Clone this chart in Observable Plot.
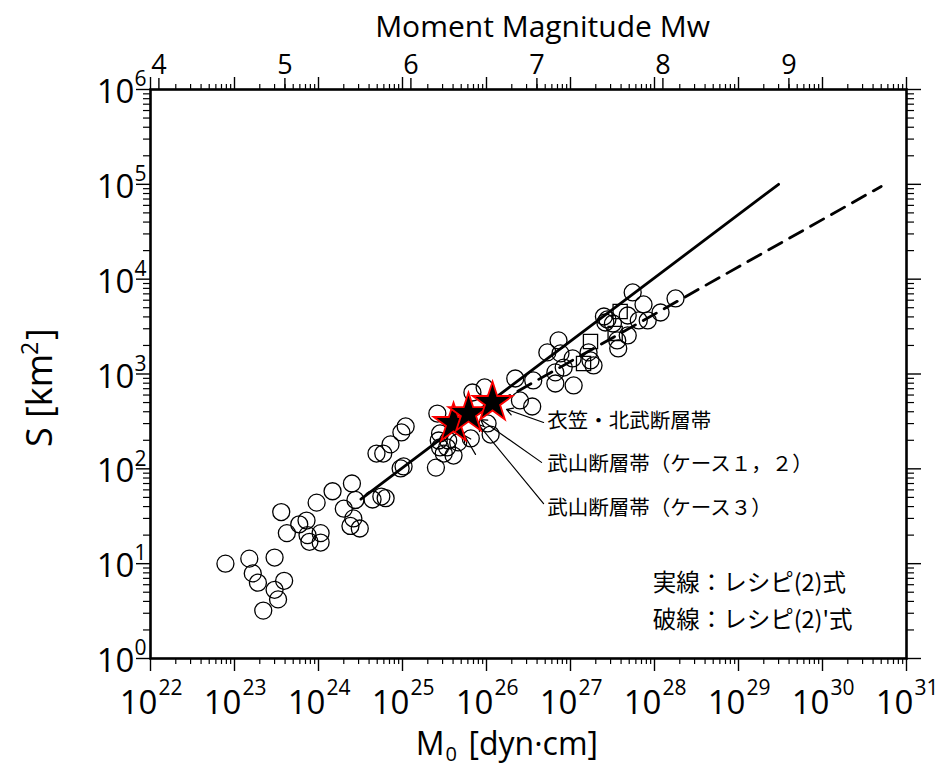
<!DOCTYPE html>
<html>
<head>
<meta charset="utf-8">
<script src="https://cdn.jsdelivr.net/npm/d3@7"></script>
<script src="https://cdn.jsdelivr.net/npm/@observablehq/plot@0.6"></script>
<style>
  html, body { margin: 0; padding: 0; background: #fff; }
  svg { overflow: visible; }
</style>
</head>
<body>
<div id="chart"></div>
<script>
// ---- data ----
const circleM0 = [7.8e22,1.5e23,3.0e23,1.65e23,1.9e23,3.9e23,3.0e23,3.3e23,2.2e23,3.6e23,
  4.2e23,5.9e23,7.2e23,7.4e23,7.8e23,1.06e24,1.06e24,9.5e23,1.47e24,2.0e24,
  2.5e24,2.75e24,2.4e24,3.1e24,2.6e24,4.4e24,5.6e24,6.3e24,4.9e24,5.9e24,
  7.2e24,9.7e24,1.09e25,9.5e24,1.03e25,2.6e25,2.8e25,2.7e25,3.5e25,2.8e25,
  3.4e25,3.1e25,4.05e25,2.5e25,4.6e25,6.5e25,1.12e26,1.03e26,6.8e25,9.5e25,
  2.5e26,3.5e26,2.2e26,3.6e26,5.3e26,7.2e26,6.6e26,1.09e27,8.3e26,1.06e27,
  7.6e26,1.64e27,1.73e27,1.88e27,2.5e27,2.75e27,2.6e27,3.2e27,4.8e27,5.5e27,
  7.4e27,1.18e28,1.78e28,8.3e27,6.5e27,4.8e27,3.6e27,3.7e27,6.6e26];
const circleS = [10.0,11.3,11.6,7.9,6.3,6.6,5.3,4.2,3.2,35,
  21,26,28.5,20,17,21,16.7,44,58,38,
  70,47,25,23.5,30,47.5,51,49,145,145,
  181,242,280,101,106,383,236,199,199,168,
  168,145,138,103,190,209,230,301,638,721,
  526,454,897,855,1690,2260,794,757,1170,1460,
  1650,1690,1390,1230,4040,3760,3490,3410,4140,7240,
  5410,4450,6260,3670,3670,2550,2260,1860,1040];

const squareM0 = [3.9e27, 3.4e27, 1.73e27, 1.43e27];
const squareS  = [4560, 2680, 2200, 1290];

const starM0 = [4.05e25, 6.1e25, 1.18e26];
const starS  = [301, 383, 501];

// recipe (2) solid and recipe (2)' dashed line end points
const solidM0 = [3.2e24, 3.0e29];
const solidS  = [48, 1.0e5];
const dashM0  = [7.5e25, 5.0e30];
const dashS   = [372, 9.5e4];

// annotation labels
const labelText = ["衣笠・北武断層帯", "武山断層帯（ケース１，２）", "武山断層帯（ケース３）"];
const labelM0 = [5.3e26, 5.3e26, 5.3e26];
const labelS  = [316, 111, 38.2];

// leader arrows (from label to star)
const arrowX1 = [4.78e26, 4.52e26, 4.78e26, 7.4e25];
const arrowY1 = [308, 117, 43, 142];
const arrowX2 = [1.73e26, 8.5e25, 8.0e25, 5.47e25];
const arrowY2 = [423, 331, 294, 225];

const legendText = ["実線：レシピ(2)式", "破線：レシピ(2)'式"];
const legendM0 = [9.5e27, 9.5e27];
const legendS  = [6.2, 2.5];

// axis ticks and labels
const xExps = [22,23,24,25,26,27,28,29,30,31];
const yExps = [0,1,2,3,4,5,6];
const mwTicks = [4,5,6,7,8,9];

// ---- build ----
const circles = circleM0.map((m, i) => ({m, s: circleS[i]}));
const squares = squareM0.map((m, i) => ({m, s: squareS[i]}));
const stars = starM0.map((m, i) => ({m, s: starS[i]}));
const solid = solidM0.map((m, i) => ({m, s: solidS[i]}));
const dashed = dashM0.map((m, i) => ({m, s: dashS[i]}));
const labels = labelText.map((t, i) => ({t, m: labelM0[i], s: labelS[i]}));
const arrows = arrowX1.map((x1, i) => ({x1, y1: arrowY1[i], x2: arrowX2[i], y2: arrowY2[i]}));
const legend = legendText.map((t, i) => ({t, m: legendM0[i], s: legendS[i]}));

const xMajor = xExps.map(e => 10 ** e);
const yMajor = yExps.map(e => 10 ** e);
const xMinor = [];
for (const e of xExps.slice(0, -1)) for (let k = 2; k <= 9; k++) xMinor.push(k * 10 ** e);
const yMinor = [];
for (const e of yExps.slice(0, -1)) for (let k = 2; k <= 9; k++) yMinor.push(k * 10 ** e);
const mwPos = mwTicks.map(w => 10 ** (1.5 * w + 16.1));

const num = "Open Sans";
const jp = "Noto Sans CJK JP";
const blank = () => "";

const chart = Plot.plot({
  width: 939,
  height: 771,
  marginLeft: 150,
  marginRight: 33,
  marginTop: 89,
  marginBottom: 113,
  x: {type: "log", domain: [1e22, 1e31], axis: null},
  y: {type: "log", domain: [1, 1e6], axis: null},
  style: {fontFamily: num, background: "white", color: "black"},
  marks: [
    // ticks
    Plot.axisX(xMajor, {anchor: "bottom", tickSize: 13, tickFormat: blank, strokeWidth: 1.4}),
    Plot.axisX(xMinor, {anchor: "bottom", tickSize: 6, tickFormat: blank, strokeWidth: 1.2}),
    Plot.axisX(xMajor, {anchor: "top", tickSize: 13, tickFormat: blank, strokeWidth: 1.4}),
    Plot.axisX(xMinor, {anchor: "top", tickSize: 6, tickFormat: blank, strokeWidth: 1.2}),
    Plot.axisX(mwPos, {anchor: "top", tickSize: 12, tickFormat: blank, strokeWidth: 1.4}),
    Plot.axisY(yMajor, {anchor: "left", tickSize: 14, tickFormat: blank, strokeWidth: 1.4}),
    Plot.axisY(yMinor, {anchor: "left", tickSize: 7, tickFormat: blank, strokeWidth: 1.2}),
    Plot.axisY(yMajor, {anchor: "right", tickSize: 14, tickFormat: blank, strokeWidth: 1.4}),
    Plot.axisY(yMinor, {anchor: "right", tickSize: 7, tickFormat: blank, strokeWidth: 1.2}),

    // x tick labels 10^n
    Plot.text(xMajor, {x: d => d, frameAnchor: "bottom", lineAnchor: "middle", text: () => "10",
      textAnchor: "end", dx: 7, dy: 45, fontSize: 33}),
    Plot.text(xMajor, {x: d => d, frameAnchor: "bottom", lineAnchor: "middle", text: (d, i) => String(xExps[i]),
      textAnchor: "start", dx: 8, dy: 30, fontSize: 21}),
    // y tick labels 10^n
    Plot.text(yMajor, {y: d => d, frameAnchor: "left", lineAnchor: "middle", text: () => "10",
      textAnchor: "end", dx: -16, dy: 3, fontSize: 33}),
    Plot.text(yMajor, {y: d => d, frameAnchor: "left", lineAnchor: "middle", text: (d, i) => String(yExps[i]),
      textAnchor: "start", dx: -16, dy: -10, fontSize: 21}),
    // Mw labels
    Plot.text(mwPos, {x: d => d, frameAnchor: "top", lineAnchor: "middle", text: (d, i) => String(mwTicks[i]),
      dy: -24, fontSize: 27}),

    // axis titles
    Plot.text(["Moment Magnitude Mw"], {frameAnchor: "top", lineAnchor: "middle", dx: 14, dy: -62, fontSize: 30}),
    Plot.text(["M"], {frameAnchor: "bottom", lineAnchor: "middle", textAnchor: "end", dx: -84, dy: 86, fontSize: 32}),
    Plot.text(["0"], {frameAnchor: "bottom", lineAnchor: "middle", textAnchor: "start", dx: -83, dy: 96, fontSize: 20}),
    Plot.text(["[dyn·cm]"], {frameAnchor: "bottom", lineAnchor: "middle", textAnchor: "start", dx: -60, dy: 86, fontSize: 32}),
    Plot.text(["S [km"], {frameAnchor: "left", lineAnchor: "middle", textAnchor: "start", rotate: -90, dx: -110, dy: 73, fontSize: 36}),
    Plot.text(["2"], {frameAnchor: "left", lineAnchor: "middle", textAnchor: "start", rotate: -90, dx: -120, dy: -19, fontSize: 23}),
    Plot.text(["]"], {frameAnchor: "left", lineAnchor: "middle", textAnchor: "start", rotate: -90, dx: -110, dy: -34, fontSize: 36}),

    // data
    Plot.dot(circles, {x: "m", y: "s", r: 8.5, stroke: "black", strokeWidth: 1.3, fill: "none"}),
    Plot.dot(squares, {x: "m", y: "s", symbol: "square", r: 8, stroke: "black", strokeWidth: 1.3, fill: "none"}),
    Plot.line(solid, {x: "m", y: "s", stroke: "black", strokeWidth: 2.8}),
    Plot.line(dashed, {x: "m", y: "s", stroke: "black", strokeWidth: 2.8, strokeDasharray: "15,9"}),
    Plot.arrow(arrows, {x1: "x1", y1: "y1", x2: "x2", y2: "y2", stroke: "black", strokeWidth: 1.2, headLength: 9, bend: 0}),
    Plot.dot(stars, {x: "m", y: "s", symbol: "star", r: 12.5, fill: "black", stroke: "red", strokeWidth: 1.8}),

    // annotations
    Plot.text(labels, {x: "m", y: "s", text: "t", textAnchor: "start", fontFamily: jp, fontSize: 20.5}),
    Plot.text(legend, {x: "m", y: "s", text: "t", textAnchor: "start", fontFamily: jp, fontSize: 23.5}),

    Plot.frame({stroke: "black", strokeWidth: 2.6})
  ]
});
document.getElementById("chart").appendChild(chart);
</script>
</body>
</html>
